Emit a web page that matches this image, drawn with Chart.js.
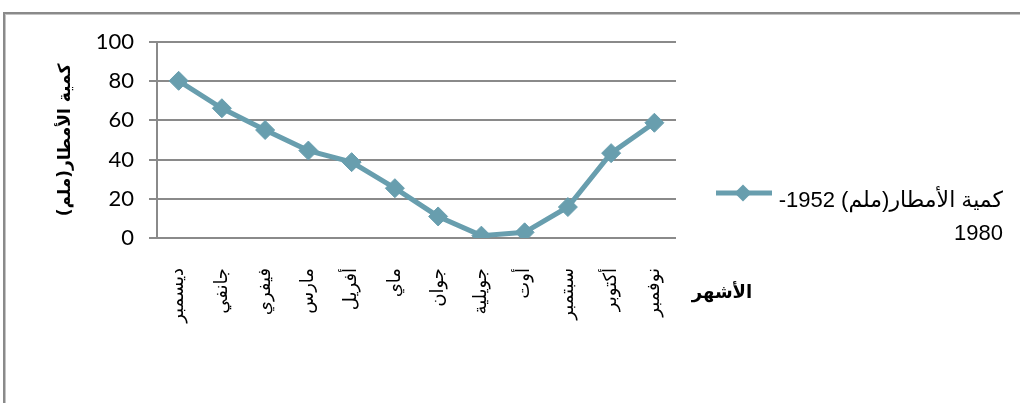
<!DOCTYPE html>
<html>
<head>
<meta charset="utf-8">
<script src="https://cdn.jsdelivr.net/npm/chart.js@4"></script>
<style>
  html, body { margin: 0; padding: 0; background: #fff; }
  #frame {
    position: absolute; left: 3px; top: 12px; right: 0; bottom: 0;
    border-left: 2px solid #8a8a8a; border-top: 2px solid #8a8a8a;
    box-shadow: inset 1px 1px 0 #c4c4c4;
  }
  #holder { position: absolute; left: 0; top: 0; width: 1020px; height: 403px; }
</style>
</head>
<body>
<div id="frame"></div>
<div id="holder"><canvas id="rain" dir="rtl" width="1020" height="403"></canvas></div>
<script>
// Monthly rainfall, 1952-1980
const months = ['ديسمبر', 'جانفي', 'فيفري', 'مارس', 'أفريل', 'ماي', 'جوان', 'جويلية', 'أوت', 'سبتمبر', 'أكتوبر', 'نوفمبر'];
const rainfall = [80.2, 66.2, 55.1, 44.6, 38.7, 25.4, 11.0, 1.2, 2.9, 15.8, 43.3, 58.8];
const legendLines = ['كمية الأمطار(ملم) 1952-', '1980'];
const yTitle = 'كمية الأمطار(ملم)';
const xTitle = 'الأشهر';
const yMin = 0;
const yMax = 100;
const yStep = 20;

const lineColor = '#689eae';
const gridColor = '#8a8a8a';

// Draws the month title beside the axis and the legend on the right
const sidePlugin = {
    id: 'sideText',
    afterDraw(chart) {
        const ctx = chart.ctx;
        const area = chart.chartArea;
        ctx.save();
        ctx.direction = 'rtl';
        ctx.fillStyle = '#000';

        // x axis title
        ctx.font = 'bold 18px "DejaVu Sans"';
        ctx.textAlign = 'center';
        ctx.textBaseline = 'middle';
        ctx.fillText(xTitle, area.right + 46, 293);

        // legend marker
        const ly = 193;
        const lx0 = area.right + 40;
        const lx1 = area.right + 96;
        ctx.strokeStyle = lineColor;
        ctx.lineWidth = 5;
        ctx.beginPath();
        ctx.moveTo(lx0, ly);
        ctx.lineTo(lx1, ly);
        ctx.stroke();
        const mx = area.right + 67;
        const r = 8.5;
        ctx.fillStyle = lineColor;
        ctx.beginPath();
        ctx.moveTo(mx, ly - r);
        ctx.lineTo(mx + r, ly);
        ctx.lineTo(mx, ly + r);
        ctx.lineTo(mx - r, ly);
        ctx.closePath();
        ctx.fill();

        // legend text
        ctx.fillStyle = '#000';
        ctx.font = '22px "Liberation Sans", "DejaVu Sans"';
        ctx.textAlign = 'right';
        ctx.textBaseline = 'alphabetic';
        legendLines.forEach((line, i) => {
            ctx.fillText(line, area.right + 327, 207 + i * 33);
        });
        ctx.restore();
    }
};

const config = {
    type: 'line',
    data: {
        labels: months,
        datasets: [{
            label: legendLines.join(''),
            data: rainfall,
            borderColor: lineColor,
            backgroundColor: lineColor,
            borderWidth: 5,
            pointStyle: 'rectRot',
            pointRadius: 9.5,
            pointHoverRadius: 9.5,
            pointBorderWidth: 1,
            tension: 0
        }]
    },
    options: {
        responsive: false,
        animation: false,
        layout: {
            padding: { left: 45, top: 42, right: 344, bottom: 0 }
        },
        scales: {
            y: {
                min: yMin,
                max: yMax,
                afterFit(scale) { scale.width = 112; },
                ticks: {
                    stepSize: yStep,
                    padding: 15,
                    color: '#000',
                    font: { family: 'Lato', size: 22 }
                },
                grid: {
                    color: gridColor,
                    lineWidth: 2,
                    tickLength: 8,
                    tickColor: gridColor
                },
                border: { color: gridColor, width: 2 },
                title: {
                    display: true,
                    text: yTitle,
                    color: '#000',
                    font: { family: 'DejaVu Sans', size: 17, weight: 'bold' },
                    padding: { top: 10, bottom: 0 }
                }
            },
            x: {
                offset: true,
                afterFit(scale) { scale.height = 165; },
                grid: { display: false, offset: true },
                border: { display: false },
                ticks: {
                    minRotation: 90,
                    maxRotation: 90,
                    padding: 22,
                    color: '#000',
                    font: { family: 'DejaVu Sans', size: 18 }
                }
            }
        },
        plugins: {
            legend: { display: false },
            tooltip: { enabled: false }
        }
    },
    plugins: [sidePlugin]
};

new Chart(document.getElementById('rain').getContext('2d'), config);
</script>
</body>
</html>
